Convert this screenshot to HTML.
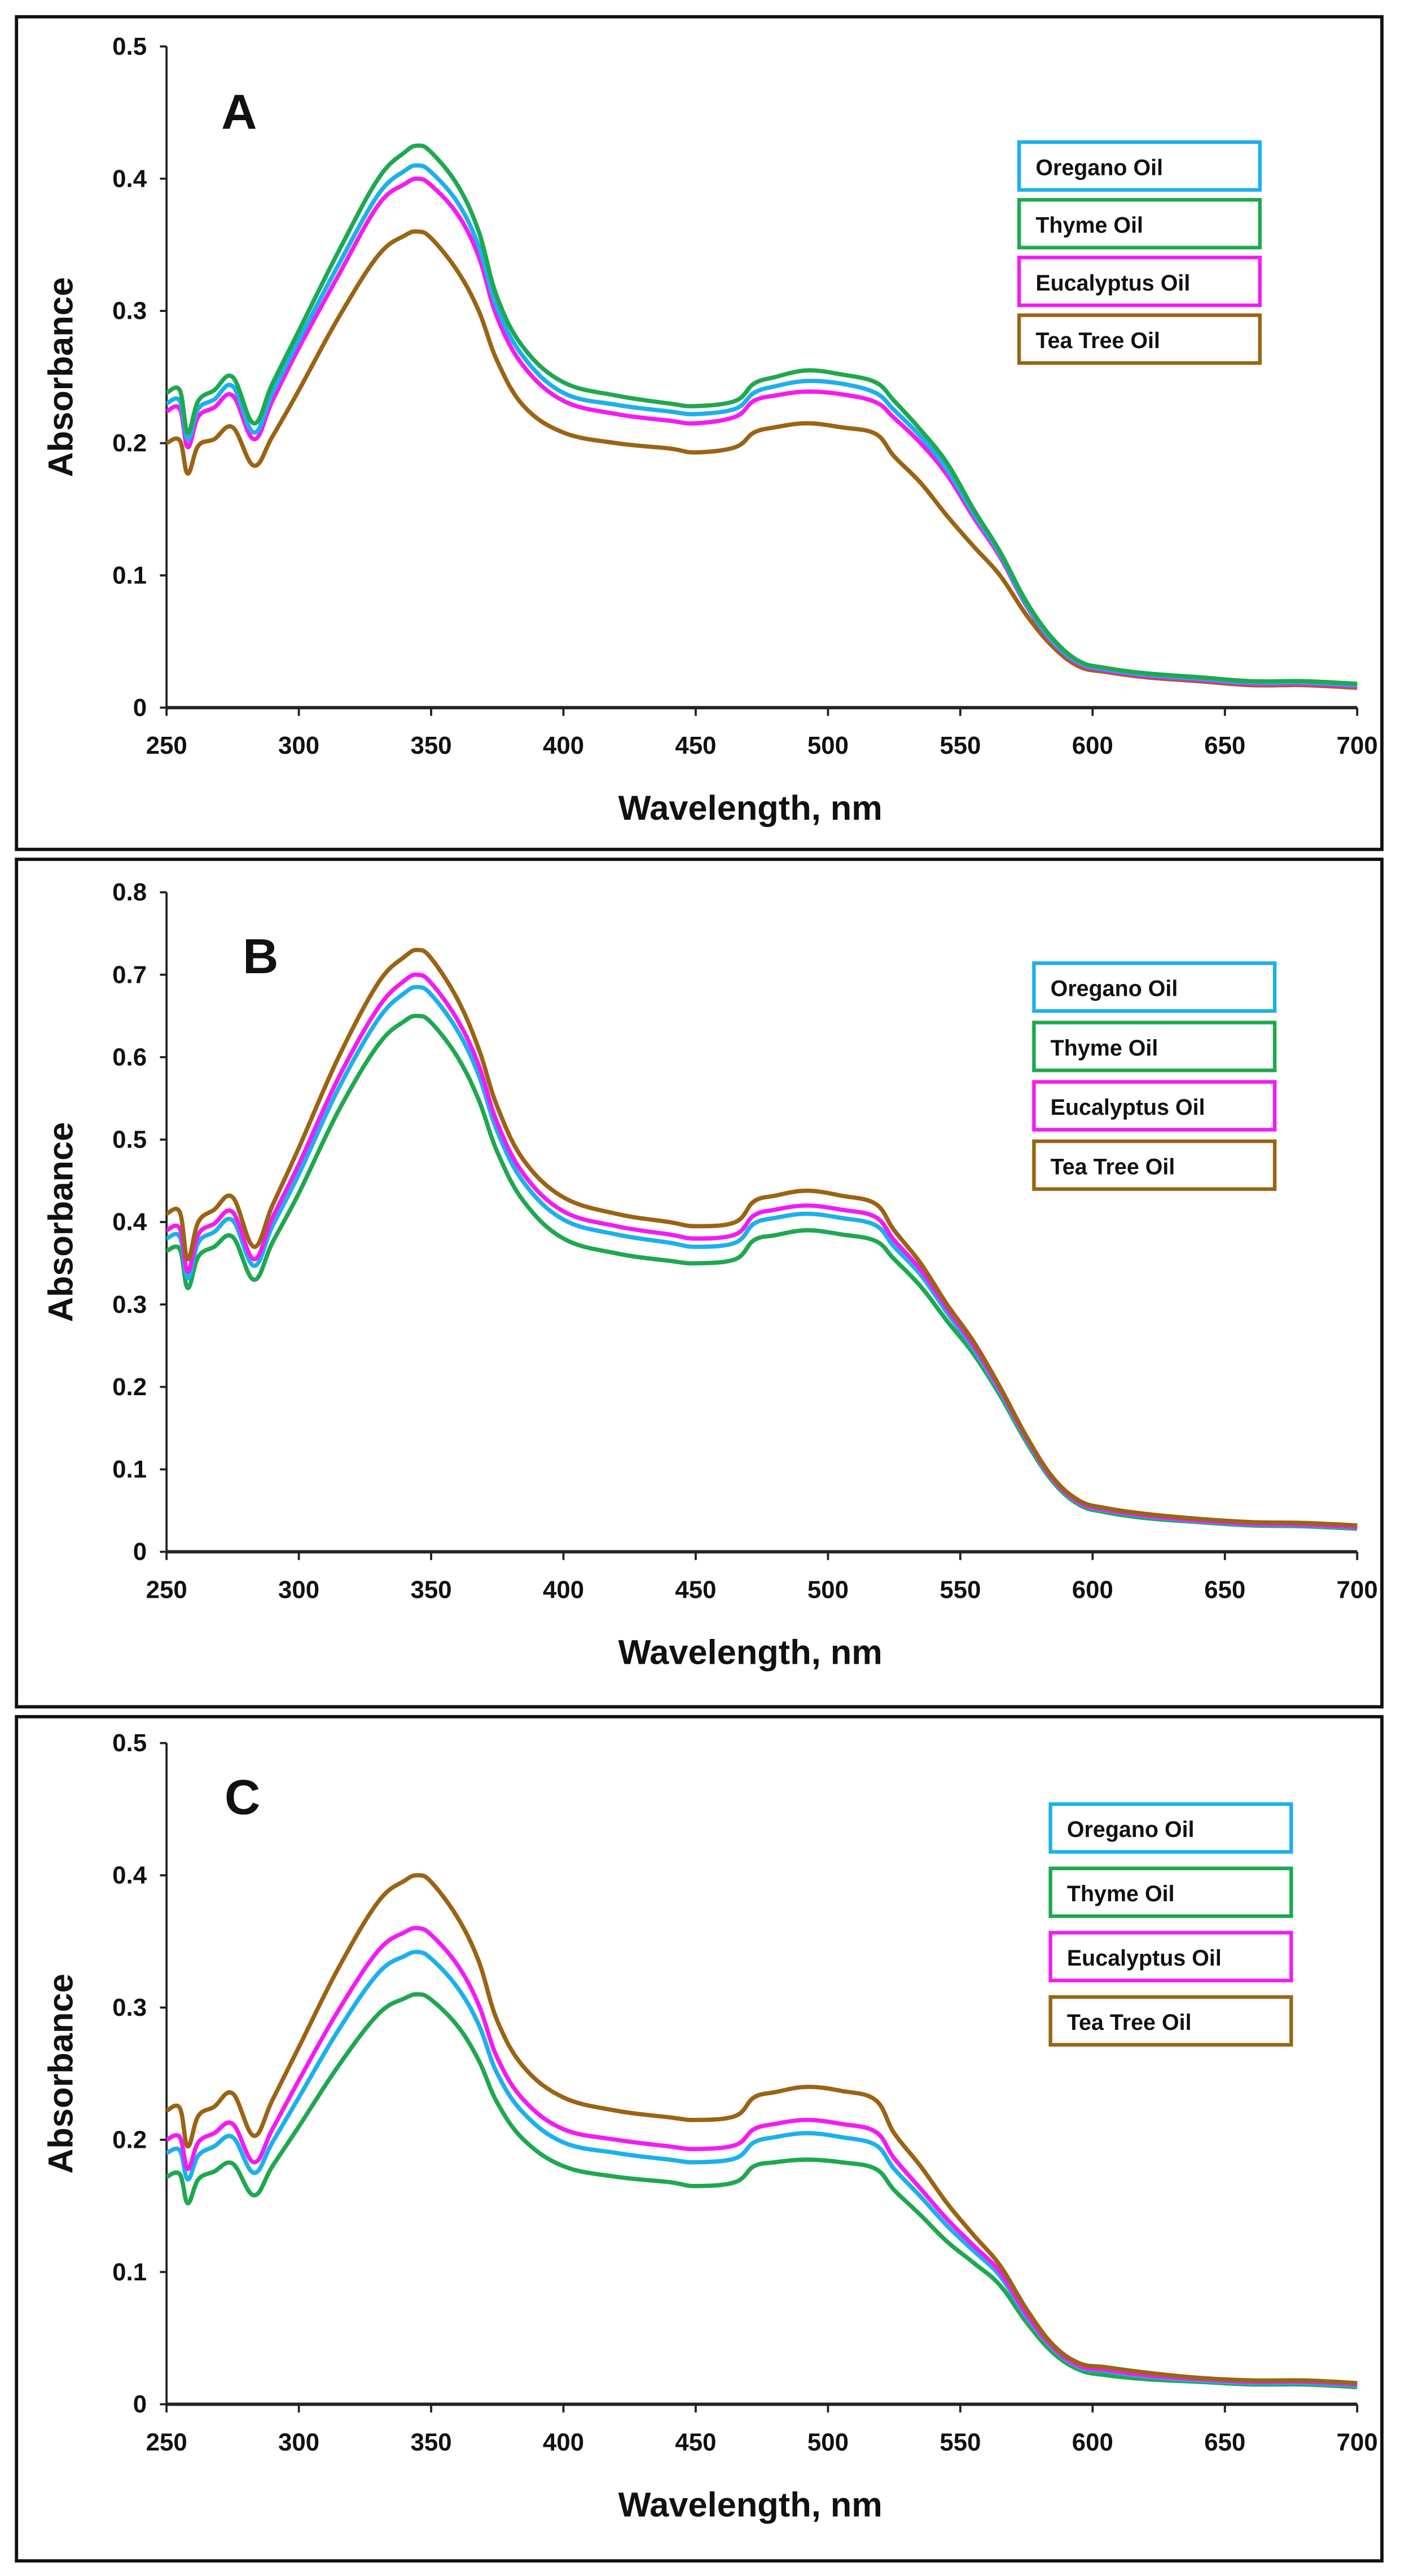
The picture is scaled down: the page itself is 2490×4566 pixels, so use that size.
<!DOCTYPE html>
<html><head><meta charset="utf-8">
<style>
html,body{margin:0;padding:0;background:#fff;}
svg{display:block;}
text{font-family:"Liberation Sans",Arial,sans-serif;font-weight:bold;fill:#111;}
</style></head>
<body>
<svg id="fig" width="2490" height="4566" viewBox="0 0 852 1562" xmlns="http://www.w3.org/2000/svg"></svg>
<script>
const wavelengths=[250,255,258,262,268,275,283,290,300,315,330,340,345,350,360,368,375,385,400,420,440,450,465,472,480,492,505,518,525,535,545,555,565,575,585,595,605,620,640,660,680,700];
const seriesNames=["Oregano Oil","Thyme Oil","Eucalyptus Oil","Tea Tree Oil"];
const xTicks=[250,300,350,400,450,500,550,600,650,700];
const yTicksA=[0,0.1,0.2,0.3,0.4,0.5];
const yTicksB=[0,0.1,0.2,0.3,0.4,0.5,0.6,0.7,0.8];
const yTicksC=[0,0.1,0.2,0.3,0.4,0.5];
const oreganoA=[0.230,0.232,0.203,0.226,0.233,0.243,0.208,0.238,0.278,0.335,0.388,0.406,0.410,0.405,0.382,0.349,0.302,0.265,0.238,0.229,0.224,0.222,0.226,0.238,0.243,0.247,0.245,0.238,0.225,0.205,0.180,0.147,0.116,0.078,0.050,0.034,0.029,0.025,0.022,0.019,0.019,0.017];
const thymeA=[0.238,0.240,0.208,0.232,0.240,0.250,0.215,0.245,0.285,0.345,0.400,0.420,0.425,0.420,0.395,0.360,0.310,0.272,0.246,0.236,0.230,0.228,0.232,0.245,0.250,0.255,0.252,0.246,0.232,0.210,0.185,0.150,0.118,0.080,0.052,0.035,0.030,0.026,0.023,0.020,0.020,0.018];
const eucalyptusA=[0.224,0.226,0.197,0.220,0.227,0.236,0.203,0.232,0.272,0.327,0.380,0.396,0.400,0.395,0.373,0.341,0.295,0.258,0.232,0.222,0.217,0.215,0.220,0.232,0.236,0.239,0.237,0.231,0.219,0.200,0.176,0.144,0.114,0.077,0.049,0.033,0.028,0.024,0.021,0.018,0.018,0.016];
const teaTreeA=[0.200,0.202,0.177,0.198,0.203,0.212,0.183,0.205,0.240,0.295,0.342,0.357,0.360,0.355,0.330,0.300,0.262,0.228,0.208,0.200,0.196,0.193,0.197,0.208,0.212,0.215,0.212,0.207,0.190,0.170,0.145,0.122,0.100,0.070,0.046,0.031,0.027,0.023,0.020,0.017,0.017,0.015];
const oreganoB=[0.380,0.382,0.332,0.375,0.388,0.402,0.347,0.395,0.458,0.562,0.646,0.678,0.685,0.676,0.632,0.578,0.510,0.448,0.403,0.385,0.375,0.370,0.375,0.398,0.405,0.410,0.405,0.396,0.370,0.336,0.290,0.246,0.194,0.136,0.087,0.059,0.050,0.043,0.037,0.033,0.032,0.029];
const thymeB=[0.365,0.367,0.320,0.358,0.370,0.382,0.330,0.375,0.435,0.535,0.615,0.644,0.650,0.642,0.600,0.548,0.485,0.425,0.380,0.362,0.353,0.350,0.355,0.378,0.384,0.390,0.385,0.377,0.355,0.322,0.280,0.240,0.190,0.133,0.085,0.057,0.048,0.041,0.036,0.032,0.031,0.028];
const eucalyptusB=[0.390,0.392,0.340,0.385,0.398,0.412,0.355,0.405,0.470,0.575,0.660,0.693,0.700,0.690,0.645,0.590,0.520,0.458,0.413,0.395,0.385,0.380,0.385,0.408,0.415,0.420,0.415,0.406,0.378,0.342,0.295,0.250,0.197,0.138,0.088,0.060,0.051,0.044,0.038,0.034,0.033,0.030];
const teaTreeB=[0.410,0.412,0.355,0.400,0.415,0.430,0.370,0.420,0.490,0.600,0.690,0.722,0.730,0.720,0.670,0.610,0.540,0.475,0.430,0.410,0.400,0.395,0.400,0.425,0.432,0.438,0.432,0.422,0.390,0.350,0.300,0.255,0.200,0.140,0.090,0.062,0.053,0.046,0.040,0.036,0.035,0.032];
const oreganoC=[0.190,0.192,0.170,0.188,0.195,0.202,0.175,0.198,0.232,0.283,0.326,0.339,0.342,0.337,0.315,0.287,0.250,0.220,0.198,0.190,0.185,0.183,0.186,0.198,0.202,0.205,0.202,0.196,0.178,0.157,0.135,0.116,0.097,0.066,0.042,0.028,0.025,0.021,0.018,0.016,0.016,0.014];
const thymeC=[0.172,0.174,0.152,0.170,0.176,0.182,0.158,0.180,0.210,0.256,0.295,0.307,0.310,0.306,0.286,0.260,0.228,0.200,0.180,0.172,0.168,0.165,0.168,0.180,0.183,0.185,0.183,0.178,0.162,0.143,0.123,0.107,0.090,0.062,0.039,0.026,0.022,0.019,0.017,0.015,0.015,0.013];
const eucalyptusC=[0.200,0.202,0.178,0.198,0.205,0.212,0.183,0.208,0.245,0.298,0.343,0.357,0.360,0.355,0.332,0.302,0.262,0.230,0.208,0.200,0.195,0.193,0.196,0.208,0.212,0.215,0.212,0.206,0.186,0.163,0.140,0.120,0.100,0.068,0.043,0.029,0.026,0.022,0.019,0.017,0.017,0.015];
const teaTreeC=[0.222,0.224,0.195,0.218,0.225,0.235,0.203,0.230,0.270,0.330,0.380,0.396,0.400,0.395,0.368,0.335,0.290,0.255,0.232,0.222,0.217,0.215,0.218,0.232,0.236,0.240,0.237,0.230,0.205,0.180,0.152,0.128,0.105,0.072,0.045,0.031,0.028,0.024,0.020,0.018,0.018,0.016];

const NS="http://www.w3.org/2000/svg";
const svg=document.getElementById('fig');
const colors={"Oregano Oil":"#1cb0ec","Thyme Oil":"#1fa84f","Eucalyptus Oil":"#f21cf2","Tea Tree Oil":"#9a6414"};
function el(tag,attrs,parent){const e=document.createElementNS(NS,tag);for(const k in attrs)e.setAttribute(k,attrs[k]);(parent||svg).appendChild(e);return e;}
function smoothPath(pts){
  let d='M'+pts[0][0].toFixed(2)+' '+pts[0][1].toFixed(2);
  for(let i=0;i<pts.length-1;i++){
    const p0=pts[i-1]||pts[i],p1=pts[i],p2=pts[i+1],p3=pts[i+2]||p2;
    const t=0.18;
    const c1=[p1[0]+(p2[0]-p0[0])*t,p1[1]+(p2[1]-p0[1])*t];
    const c2=[p2[0]-(p3[0]-p1[0])*t,p2[1]-(p3[1]-p1[1])*t];
    d+=' C'+c1[0].toFixed(2)+' '+c1[1].toFixed(2)+' '+c2[0].toFixed(2)+' '+c2[1].toFixed(2)+' '+p2[0].toFixed(2)+' '+p2[1].toFixed(2);
  }
  return d;
}

const panels=[
 {id:'a',letter:'A',box:[10,10,828,505],y0:429,yTop:28,yMax:0.5,ticks:yTicksA,lx:145,ly:78,leg:[618,86],legStep:35,
  data:{"Oregano Oil":oreganoA,"Thyme Oil":thymeA,"Eucalyptus Oil":eucalyptusA,"Tea Tree Oil":teaTreeA},order:["Tea Tree Oil","Eucalyptus Oil","Oregano Oil","Thyme Oil"]},
 {id:'b',letter:'B',box:[10,521,828,514],y0:941,yTop:541,yMax:0.8,ticks:yTicksB,lx:158,ly:590,leg:[627,584],legStep:36,
  data:{"Oregano Oil":oreganoB,"Thyme Oil":thymeB,"Eucalyptus Oil":eucalyptusB,"Tea Tree Oil":teaTreeB},order:["Thyme Oil","Oregano Oil","Eucalyptus Oil","Tea Tree Oil"]},
 {id:'c',letter:'C',box:[10,1041,828,512],y0:1458,yTop:1057,yMax:0.5,ticks:yTicksC,lx:147,ly:1100,leg:[637,1094],legStep:39,
  data:{"Oregano Oil":oreganoC,"Thyme Oil":thymeC,"Eucalyptus Oil":eucalyptusC,"Tea Tree Oil":teaTreeC},order:["Thyme Oil","Oregano Oil","Eucalyptus Oil","Tea Tree Oil"]}
];
const X0=101,X1=823;
panels.forEach(p=>{
  const g=el('g',{});
  
  
  const fr=el('rect',{x:p.box[0],y:p.box[1],width:p.box[2],height:p.box[3],fill:'none',stroke:'#111','stroke-width':2},g);
  
  
  const xs=v=>X0+(v-250)/(700-250)*(X1-X0);
  const ys=v=>p.y0-v/p.yMax*(p.y0-p.yTop);
  const ya=el('line',{x1:X0,y1:p.yTop,x2:X0,y2:p.y0,stroke:'#222','stroke-width':1.3},g);
  
  
  const xa=el('line',{x1:X0,y1:p.y0,x2:X1,y2:p.y0,stroke:'#222','stroke-width':2},g);
  
  
  p.ticks.forEach(t=>{
    el('line',{x1:X0-4,y1:ys(t),x2:X0,y2:ys(t),stroke:'#222','stroke-width':1.3},g);
    const tx=el('text',{x:X0-12,y:ys(t)+5,'text-anchor':'end','font-size':15},g);
    tx.textContent=(t===0?'0':t.toFixed(1));
    
    
  });
  xTicks.forEach(t=>{
    el('line',{x1:xs(t),y1:p.y0,x2:xs(t),y2:p.y0+5,stroke:'#222','stroke-width':1.3},g);
    const tx=el('text',{x:xs(t),y:p.y0+28,'text-anchor':'middle','font-size':15},g);
    tx.textContent=t;
    
    
  });
  const xt=el('text',{x:455,y:p.y0+68,'text-anchor':'middle','font-size':21},g);
  xt.textContent='Wavelength, nm';
  
  
  const yc=(p.y0+p.yTop)/2;
  const yt=el('text',{x:44,y:yc,'text-anchor':'middle','font-size':21,transform:`rotate(-90 44 ${yc})`},g);
  yt.textContent='Absorbance';
  
  
  const lt=el('text',{x:p.lx,y:p.ly,'text-anchor':'middle','font-size':30},g);
  lt.textContent=p.letter;
  
  
  p.order.forEach(name=>{
    const vals=p.data[name];
    const pts=wavelengths.map((w,i)=>[xs(w),ys(vals[i])]);
    const path=el('path',{d:smoothPath(pts),fill:'none',stroke:colors[name],'stroke-width':2.6,'stroke-linejoin':'round'},g);
    
    
  });
  seriesNames.forEach((name,i)=>{
    const lx=p.leg[0],ly=p.leg[1]+i*p.legStep;
    const lg=el('g',{},g);
    
    
    el('rect',{x:lx,y:ly,width:146,height:29,fill:'#fff',stroke:colors[name],'stroke-width':2.2},lg);
    const t=el('text',{x:lx+10,y:ly+20,'font-size':13.5},lg);
    t.textContent=name;
  });
});
</script>
</body></html>
